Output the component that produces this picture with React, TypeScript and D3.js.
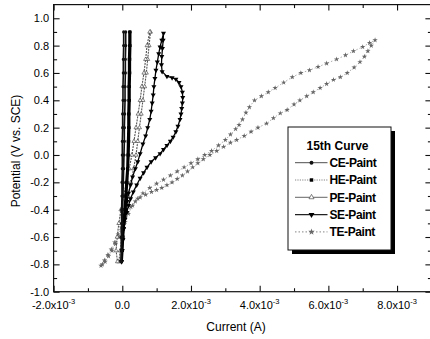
import { useEffect, useRef } from 'react';
import * as d3 from 'd3';

// Cyclic polarization, 15th curve. Currents in A, potentials in V vs. SCE.
// Each series: forward scan (bottom -> top) then reverse scan (top -> bottom).
const cePotential = [-0.78, -0.7, -0.6, -0.5, -0.4, -0.3, -0.2, -0.1, 0.0, 0.1, 0.2, 0.3, 0.4, 0.5, 0.6, 0.7, 0.8, 0.9,
  0.9, 0.8, 0.7, 0.6, 0.5, 0.4, 0.3, 0.2, 0.1, 0.0, -0.1, -0.2, -0.3, -0.4, -0.5, -0.6, -0.7, -0.78];
const ceCurrent = [-0.04e-3, -0.03e-3, -0.03e-3, -0.02e-3, -0.02e-3, -0.01e-3, -0.01e-3, 0.0, 0.0, 0.0, 0.01e-3, 0.01e-3, 0.02e-3, 0.02e-3, 0.03e-3, 0.03e-3, 0.04e-3, 0.04e-3,
  0.1e-3, 0.1e-3, 0.09e-3, 0.09e-3, 0.08e-3, 0.08e-3, 0.07e-3, 0.06e-3, 0.06e-3, 0.05e-3, 0.04e-3, 0.03e-3, 0.02e-3, 0.01e-3, 0.0, -0.01e-3, -0.02e-3, -0.03e-3];

const hePotential = [-0.78, -0.7, -0.6, -0.5, -0.4, -0.3, -0.2, -0.1, 0.0, 0.1, 0.2, 0.3, 0.4, 0.5, 0.6, 0.7, 0.8, 0.9,
  0.9, 0.8, 0.7, 0.6, 0.5, 0.4, 0.3, 0.2, 0.1, 0.0, -0.1, -0.2, -0.3, -0.4, -0.5, -0.6, -0.7, -0.78];
const heCurrent = [-0.02e-3, 0.0, 0.02e-3, 0.04e-3, 0.07e-3, 0.1e-3, 0.12e-3, 0.15e-3, 0.16e-3, 0.17e-3, 0.18e-3, 0.18e-3, 0.19e-3, 0.19e-3, 0.2e-3, 0.2e-3, 0.21e-3, 0.21e-3,
  0.23e-3, 0.23e-3, 0.22e-3, 0.22e-3, 0.21e-3, 0.21e-3, 0.2e-3, 0.2e-3, 0.19e-3, 0.18e-3, 0.16e-3, 0.14e-3, 0.11e-3, 0.08e-3, 0.05e-3, 0.02e-3, 0.0, -0.02e-3];

const pePotential = [-0.78, -0.7, -0.6, -0.5, -0.4, -0.3, -0.2, -0.1, 0.0, 0.1, 0.2, 0.3, 0.4, 0.5, 0.6, 0.7, 0.8, 0.9,
  0.9, 0.8, 0.7, 0.6, 0.5, 0.4, 0.3, 0.2, 0.1, 0.0, -0.1, -0.2, -0.3, -0.4, -0.5, -0.6, -0.7, -0.78];
const peCurrent = [-0.1e-3, -0.06e-3, -0.02e-3, 0.03e-3, 0.1e-3, 0.17e-3, 0.25e-3, 0.33e-3, 0.4e-3, 0.45e-3, 0.5e-3, 0.55e-3, 0.6e-3, 0.65e-3, 0.7e-3, 0.74e-3, 0.78e-3, 0.82e-3,
  0.8e-3, 0.72e-3, 0.68e-3, 0.63e-3, 0.57e-3, 0.52e-3, 0.46e-3, 0.4e-3, 0.34e-3, 0.28e-3, 0.2e-3, 0.12e-3, 0.04e-3, -0.04e-3, -0.1e-3, -0.15e-3, -0.18e-3, -0.14e-3];

const sePotential = [-0.78, -0.7, -0.62, -0.54, -0.47, -0.42, -0.37, -0.32, -0.27, -0.22, -0.17, -0.13, -0.09, -0.05, -0.02, 0.01, 0.04, 0.07, 0.1, 0.13,
  0.17, 0.21, 0.26, 0.3, 0.34, 0.38, 0.42, 0.46, 0.5, 0.53, 0.555, 0.565, 0.575, 0.61, 0.66, 0.72, 0.78, 0.84, 0.89,
  0.84, 0.79, 0.74, 0.68, 0.62, 0.56, 0.5, 0.44, 0.38, 0.32, 0.26, 0.2, 0.14, 0.08, 0.01, -0.05, -0.1, -0.16, -0.22,
  -0.28, -0.34, -0.4, -0.46, -0.54, -0.62, -0.7, -0.78];
const seCurrent = [-0.02e-3, -0.01e-3, 0.01e-3, 0.04e-3, 0.08e-3, 0.13e-3, 0.18e-3, 0.24e-3, 0.32e-3, 0.42e-3, 0.52e-3, 0.62e-3, 0.72e-3, 0.84e-3, 0.97e-3, 1.1e-3, 1.2e-3, 1.3e-3, 1.4e-3, 1.48e-3,
  1.56e-3, 1.62e-3, 1.68e-3, 1.71e-3, 1.73e-3, 1.75e-3, 1.76e-3, 1.75e-3, 1.71e-3, 1.65e-3, 1.56e-3, 1.45e-3, 1.3e-3, 1.16e-3, 1.14e-3, 1.15e-3, 1.17e-3, 1.19e-3, 1.2e-3,
  1.15e-3, 1.1e-3, 1.06e-3, 1.02e-3, 0.98e-3, 0.95e-3, 0.92e-3, 0.9e-3, 0.87e-3, 0.84e-3, 0.8e-3, 0.74e-3, 0.68e-3, 0.6e-3, 0.52e-3, 0.45e-3, 0.38e-3, 0.3e-3, 0.24e-3,
  0.18e-3, 0.14e-3, 0.1e-3, 0.07e-3, 0.04e-3, 0.02e-3, 0.0, -0.02e-3];

const tePotential = [-0.81, -0.77, -0.73, -0.69, -0.64, -0.58, -0.53, -0.47, -0.42, -0.38, -0.34, -0.31, -0.29, -0.27, -0.255, -0.24, -0.22, -0.2, -0.175, -0.15,
  -0.12, -0.09, -0.06, -0.03, 0.0, 0.03, 0.06, 0.09, 0.11, 0.14, 0.17, 0.2, 0.23, 0.27, 0.305, 0.33, 0.37, 0.4, 0.43, 0.46,
  0.49, 0.52, 0.55, 0.57, 0.6, 0.64, 0.68, 0.72, 0.76, 0.8, 0.84,
  0.82, 0.79, 0.76, 0.73, 0.7, 0.67, 0.645, 0.62, 0.6, 0.57, 0.53, 0.49, 0.46, 0.43, 0.4, 0.35, 0.31, 0.26, 0.22, 0.19,
  0.15, 0.11, 0.07, 0.03, 0.0, -0.03, -0.06, -0.09, -0.12, -0.15, -0.18, -0.21, -0.24, -0.28, -0.32, -0.37, -0.43, -0.49, -0.55, -0.6,
  -0.65, -0.7, -0.74, -0.78, -0.8];
const teCurrent = [-0.62e-3, -0.52e-3, -0.42e-3, -0.32e-3, -0.22e-3, -0.12e-3, -0.03e-3, 0.06e-3, 0.15e-3, 0.25e-3, 0.38e-3, 0.52e-3, 0.68e-3, 0.85e-3, 1.0e-3, 1.15e-3, 1.3e-3, 1.45e-3, 1.6e-3, 1.75e-3,
  1.9e-3, 2.05e-3, 2.2e-3, 2.36e-3, 2.55e-3, 2.75e-3, 2.95e-3, 3.15e-3, 3.33e-3, 3.55e-3, 3.75e-3, 3.95e-3, 4.2e-3, 4.4e-3, 4.6e-3, 4.8e-3, 5.0e-3, 5.17e-3, 5.37e-3, 5.56e-3,
  5.76e-3, 5.95e-3, 6.15e-3, 6.35e-3, 6.55e-3, 6.75e-3, 6.92e-3, 7.05e-3, 7.15e-3, 7.25e-3, 7.36e-3,
  7.2e-3, 7.0e-3, 6.73e-3, 6.5e-3, 6.24e-3, 5.95e-3, 5.7e-3, 5.45e-3, 5.2e-3, 4.95e-3, 4.7e-3, 4.45e-3, 4.25e-3, 4.05e-3, 3.85e-3, 3.7e-3, 3.6e-3, 3.5e-3, 3.4e-3, 3.3e-3,
  3.15e-3, 3.0e-3, 2.8e-3, 2.6e-3, 2.4e-3, 2.2e-3, 2.0e-3, 1.8e-3, 1.6e-3, 1.4e-3, 1.2e-3, 1.0e-3, 0.8e-3, 0.6e-3, 0.45e-3, 0.3e-3, 0.18e-3, 0.08e-3, -0.02e-3, -0.1e-3,
  -0.2e-3, -0.3e-3, -0.4e-3, -0.5e-3, -0.58e-3];

const seriesNames = ['CE-Paint', 'HE-Paint', 'PE-Paint', 'SE-Paint', 'TE-Paint'];
const legendTitle = '15th Curve';

const xMajorTicks = [-2e-3, 0, 2e-3, 4e-3, 6e-3, 8e-3];
const xMinorTicks = [-1e-3, 1e-3, 3e-3, 5e-3, 7e-3];
const yMajorTicks = [-1.0, -0.8, -0.6, -0.4, -0.2, 0.0, 0.2, 0.4, 0.6, 0.8, 1.0];
const yMinorTicks = [-0.9, -0.7, -0.5, -0.3, -0.1, 0.1, 0.3, 0.5, 0.7, 0.9];

const FONT = '"Liberation Sans", Arial, sans-serif';

const Chart = () => {
  const chartRef = useRef<HTMLDivElement>(null);

  useEffect(() => {
    if (!chartRef.current) return;
    d3.select(chartRef.current).selectAll('svg').remove();

    const width = 430;
    const height = 339;
    const plot = { left: 53.6, right: 431.4, top: 4.6, bottom: 291.7 };

    const svg = d3.select(chartRef.current)
      .append('svg')
      .attr('width', width)
      .attr('height', height)
      .style('display', 'block')
      .style('font-family', FONT);

    svg.append('rect').attr('width', width).attr('height', height).attr('fill', '#fff');

    const x = d3.scaleLinear().domain([-2e-3, 9e-3]).range([plot.left, plot.right]);
    const y = d3.scaleLinear().domain([-1.0, 1.1]).range([plot.bottom, plot.top]);

    // series styling
    const styles = [
      { stroke: '#111', width: 1.6, dash: null, legendDash: null, legendWidth: 0.8, symbol: d3.symbolCircle, size: 8, fill: '#111', mStroke: 'none', rotate: 0 },
      { stroke: '#000', width: 2.6, dash: null, legendDash: '1.2,1.2', legendWidth: 0.8, symbol: d3.symbolSquare, size: 8, fill: '#000', mStroke: 'none', rotate: 0 },
      { stroke: '#555', width: 1.1, dash: '2,1', legendDash: null, legendWidth: 0.7, symbol: d3.symbolTriangle, size: 7, fill: '#fff', mStroke: '#333', rotate: 0 },
      { stroke: '#000', width: 1.3, dash: null, legendDash: null, legendWidth: 1.3, symbol: d3.symbolTriangle, size: 11, fill: '#000', mStroke: 'none', rotate: 180 },
      { stroke: '#999', width: 0.8, dash: '1.5,2', legendDash: '1.5,2', legendWidth: 0.8, symbol: d3.symbolStar, size: 9, fill: '#666', mStroke: 'none', rotate: 0 },
    ];

    const seriesData = [
      ceCurrent.map((c, i) => [c, cePotential[i]]),
      heCurrent.map((c, i) => [c, hePotential[i]]),
      peCurrent.map((c, i) => [c, pePotential[i]]),
      seCurrent.map((c, i) => [c, sePotential[i]]),
      teCurrent.map((c, i) => [c, tePotential[i]]),
    ];

    svg.append('clipPath').attr('id', 'plot-clip')
      .append('rect')
      .attr('x', plot.left).attr('y', plot.top)
      .attr('width', plot.right - plot.left).attr('height', plot.bottom - plot.top);

    const line = d3.line<number[]>().x(d => x(d[0])).y(d => y(d[1]));
    const plotG = svg.append('g').attr('clip-path', 'url(#plot-clip)');

    // draw TE first so the dense curves sit on top
    [4, 2, 3, 1, 0].forEach(i => {
      const s = styles[i];
      plotG.append('path')
        .datum(seriesData[i])
        .attr('d', line)
        .attr('fill', 'none')
        .attr('stroke', s.stroke)
        .attr('stroke-width', s.width)
        .attr('stroke-dasharray', s.dash)
        .attr('stroke-linejoin', 'round');

      const sym = d3.symbol().type(s.symbol).size(s.size);
      plotG.selectAll(`.m${i}`)
        .data(seriesData[i])
        .enter()
        .append('path')
        .attr('class', `m${i}`)
        .attr('d', sym)
        .attr('transform', d => `translate(${x(d[0])},${y(d[1])}) rotate(${s.rotate})`)
        .attr('fill', s.fill)
        .attr('stroke', s.mStroke)
        .attr('stroke-width', 0.6);
    });

    // frame
    svg.append('rect')
      .attr('x', plot.left).attr('y', plot.top)
      .attr('width', plot.right - plot.left).attr('height', plot.bottom - plot.top)
      .attr('fill', 'none')
      .attr('stroke', '#111')
      .attr('stroke-width', 1.2);

    // inward ticks on all four sides
    const tickAxis = (axis: any, tf: string, vals: number[], len: number) => {
      const g = svg.append('g').attr('transform', tf)
        .call(axis.tickValues(vals).tickSize(-len).tickFormat(() => ''));
      g.select('.domain').remove();
      g.selectAll('line').attr('stroke', '#111').attr('stroke-width', 1.1);
    };
    tickAxis(d3.axisBottom(x), `translate(0,${plot.bottom})`, xMajorTicks, 6);
    tickAxis(d3.axisBottom(x), `translate(0,${plot.bottom})`, xMinorTicks, 3.5);
    tickAxis(d3.axisTop(x), `translate(0,${plot.top})`, xMajorTicks, 6);
    tickAxis(d3.axisTop(x), `translate(0,${plot.top})`, xMinorTicks, 3.5);
    tickAxis(d3.axisLeft(y), `translate(${plot.left},0)`, yMajorTicks, 6);
    tickAxis(d3.axisLeft(y), `translate(${plot.left},0)`, yMinorTicks, 3.5);
    tickAxis(d3.axisRight(y), `translate(${plot.right},0)`, yMajorTicks, 6);
    tickAxis(d3.axisRight(y), `translate(${plot.right},0)`, yMinorTicks, 3.5);

    // y tick labels
    svg.append('g').selectAll('text')
      .data(yMajorTicks)
      .enter()
      .append('text')
      .attr('x', plot.left - 4.5)
      .attr('y', d => y(d))
      .attr('dy', '0.36em')
      .attr('text-anchor', 'end')
      .style('font-size', '11px')
      .attr('fill', '#000')
      .text(d => d.toFixed(1));

    // x tick labels with superscript exponent
    xMajorTicks.forEach(v => {
      const t = svg.append('text')
        .attr('x', x(v))
        .attr('y', 308.5)
        .attr('text-anchor', 'middle')
        .style('font-size', '11px')
        .attr('fill', '#000');
      if (v === 0) {
        t.text('0.0');
      } else {
        t.append('tspan').text(`${(v / 1e-3).toFixed(1)}x10`);
        t.append('tspan').attr('dy', -5).style('font-size', '7.5px').text('-3');
      }
    });

    // axis titles
    svg.append('text')
      .attr('x', 236)
      .attr('y', 330.5)
      .attr('text-anchor', 'middle')
      .style('font-size', '12px')
      .attr('fill', '#000')
      .text('Current (A)');

    svg.append('text')
      .attr('transform', 'translate(19.5,151) rotate(-90)')
      .attr('text-anchor', 'middle')
      .style('font-size', '12px')
      .attr('fill', '#000')
      .text('Potential (V vs. SCE)');

    // legend
    const lg = { x: 288, y: 127, w: 103, h: 123 };
    svg.append('rect')
      .attr('x', lg.x + 4).attr('y', lg.y + 4)
      .attr('width', lg.w).attr('height', lg.h)
      .attr('fill', '#000');
    svg.append('rect')
      .attr('x', lg.x).attr('y', lg.y)
      .attr('width', lg.w).attr('height', lg.h)
      .attr('fill', '#fff')
      .attr('stroke', '#111')
      .attr('stroke-width', 1);

    svg.append('text')
      .attr('x', 337.5)
      .attr('y', 149.5)
      .attr('text-anchor', 'middle')
      .style('font-size', '12px')
      .style('font-weight', 'bold')
      .attr('fill', '#000')
      .text(legendTitle);

    seriesNames.forEach((name, i) => {
      const s = styles[i];
      const cy = 162.7 + i * 17.3;
      svg.append('line')
        .attr('x1', 295).attr('x2', 327.5)
        .attr('y1', cy).attr('y2', cy)
        .attr('stroke', i === 1 || i === 4 ? '#666' : '#222')
        .attr('stroke-width', s.legendWidth)
        .attr('stroke-dasharray', s.legendDash);
      svg.append('path')
        .attr('d', d3.symbol().type(s.symbol).size(s.size + 4)())
        .attr('transform', `translate(311.5,${cy}) rotate(${s.rotate})`)
        .attr('fill', s.fill)
        .attr('stroke', s.mStroke)
        .attr('stroke-width', 0.6);
      svg.append('text')
        .attr('x', 329.5)
        .attr('y', cy + 4.3)
        .style('font-size', '12px')
        .style('font-weight', 'bold')
        .style('letter-spacing', '-0.4px')
        .attr('fill', '#000')
        .text(name);
    });

    return () => {
      if (chartRef.current) d3.select(chartRef.current).selectAll('svg').remove();
    };
  }, []);

  return <div ref={chartRef} style={{ position: 'absolute', left: 0, top: 0 }}></div>;
};

export default function App() {
  return <Chart />;
}
